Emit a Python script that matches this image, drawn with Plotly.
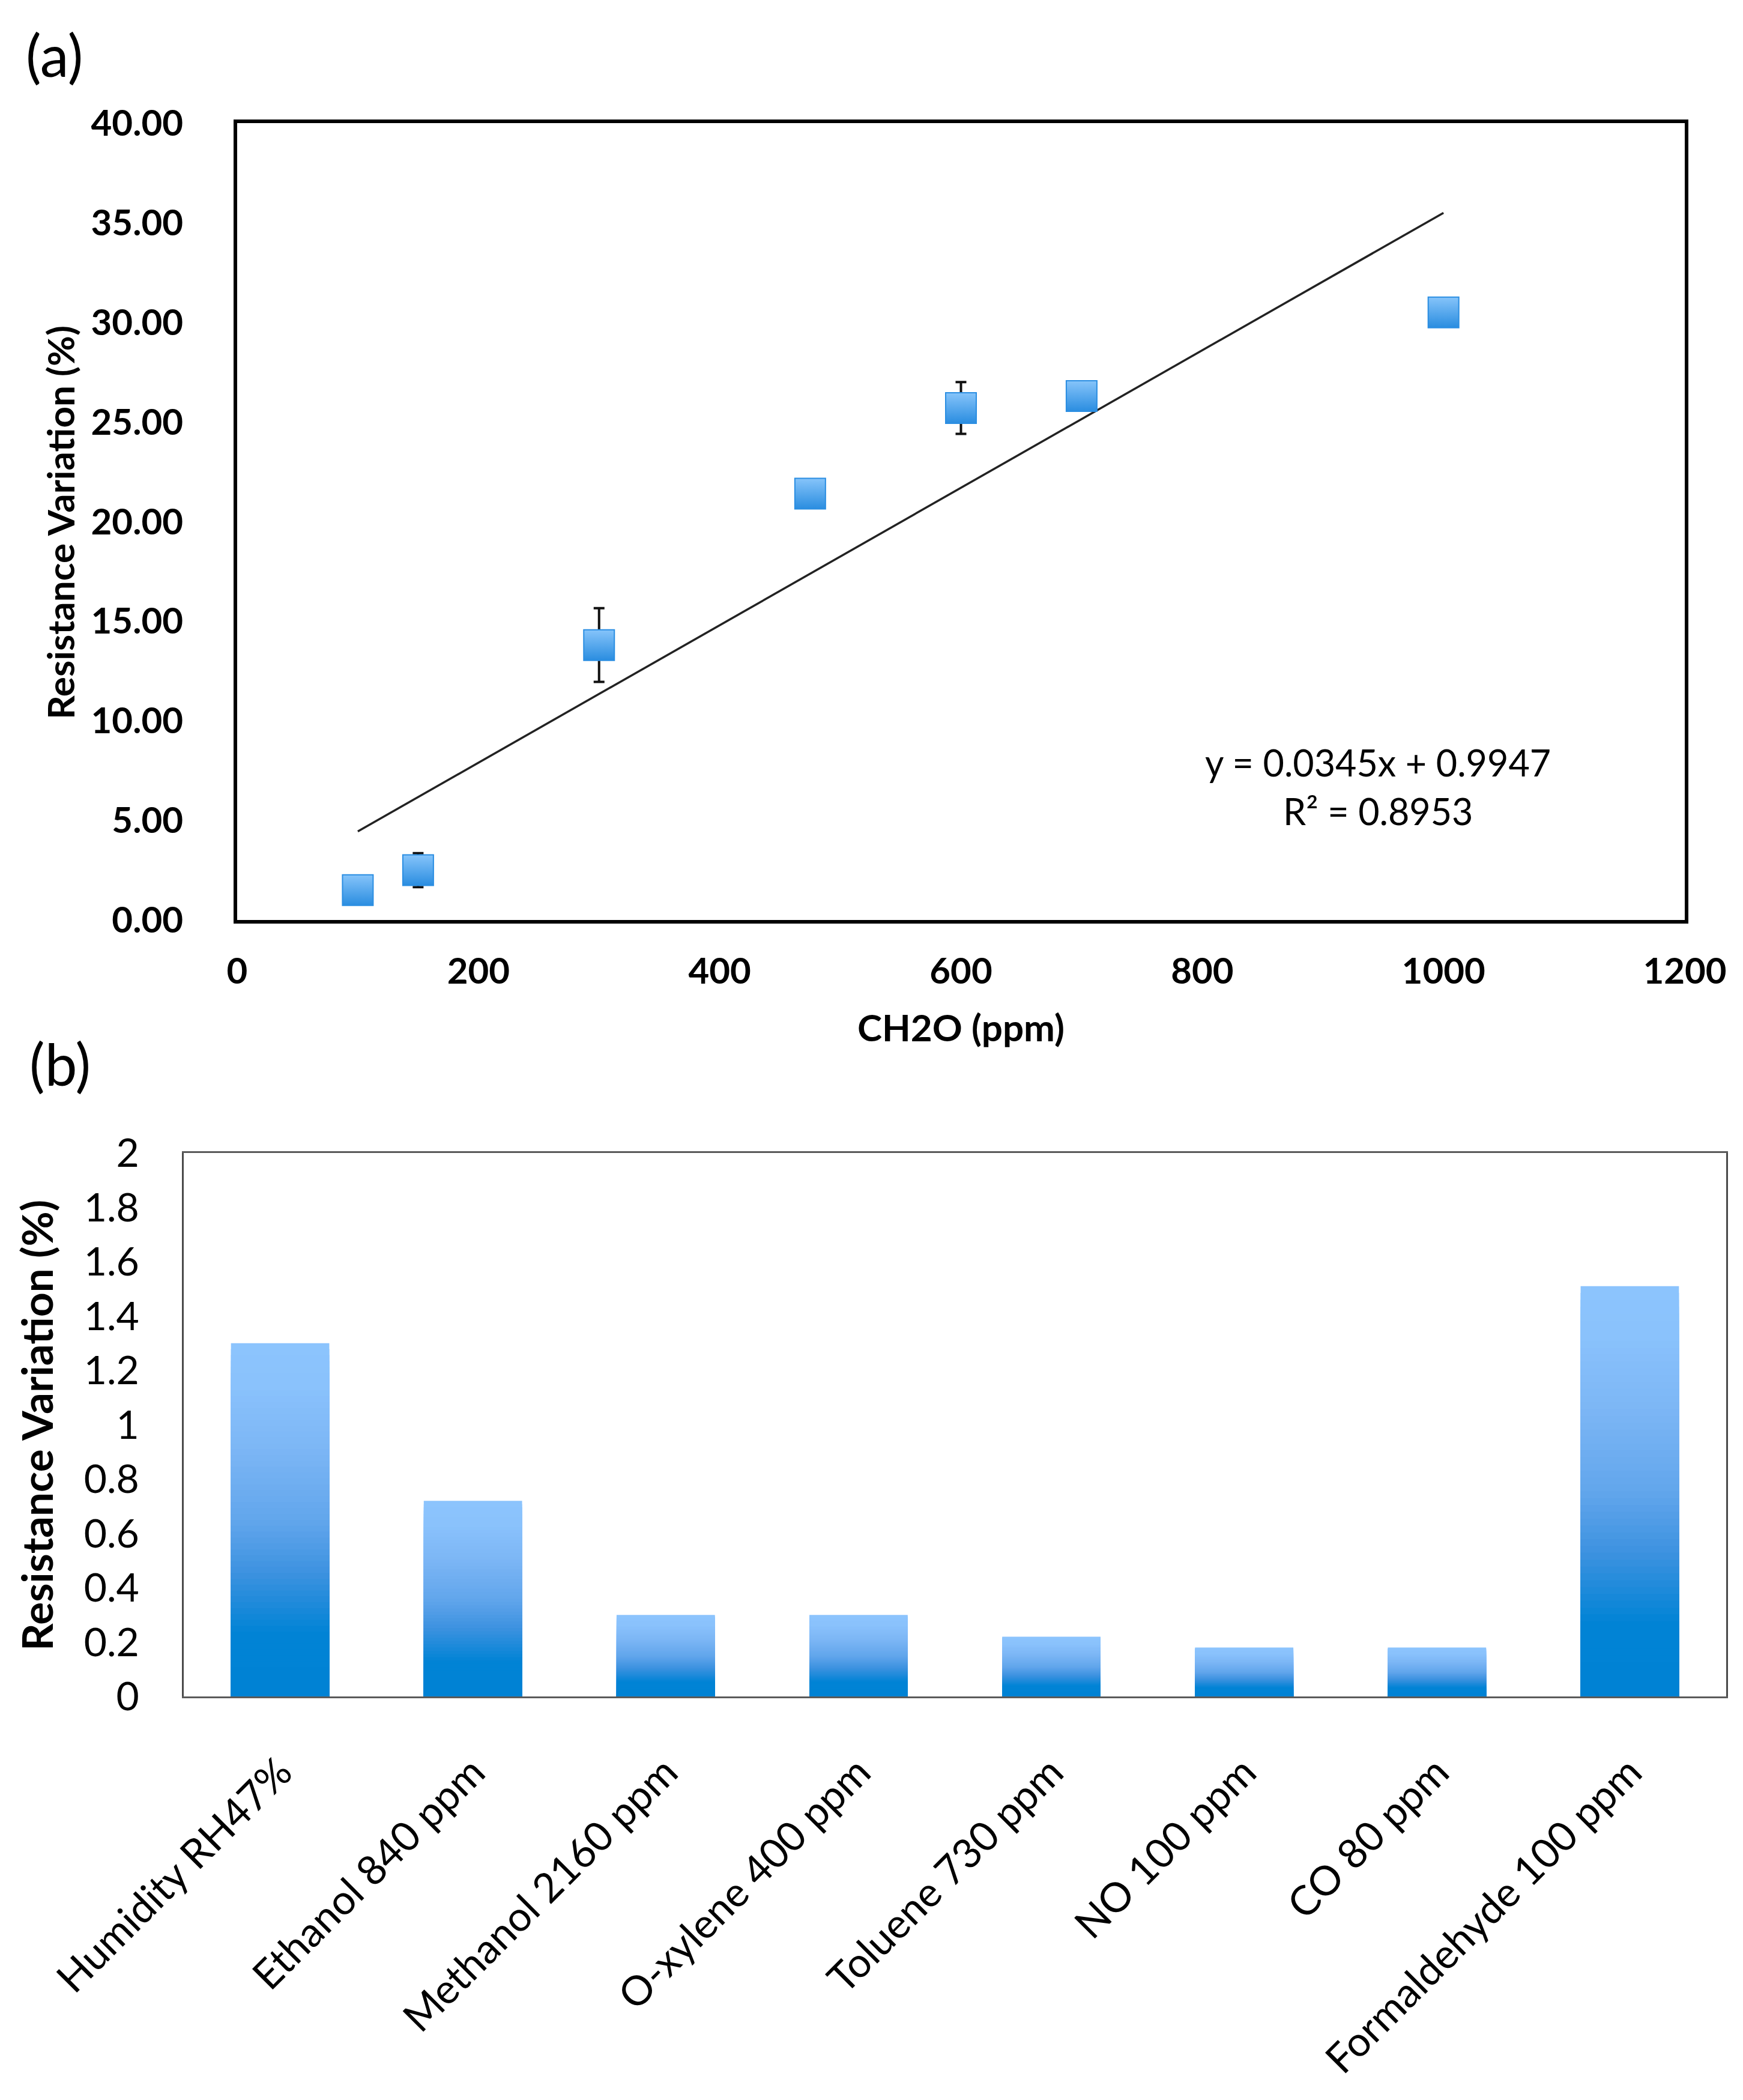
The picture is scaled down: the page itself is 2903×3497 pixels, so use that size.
import plotly.graph_objects as go

# (a) CH2O response
conc_ppm = [100, 150, 300, 475, 600, 700, 1000]
resp_pct = [1.5, 2.5, 13.8, 21.4, 25.7, 26.3, 30.5]
resp_err = [0, 0.85, 1.85, 0, 1.3, 0, 0]
fit_slope = 0.0345
fit_icpt = 0.9947
fit_r2 = 0.8953

# (b) selectivity
gases = ['Humidity RH47%', 'Ethanol 840 ppm', 'Methanol 2160 ppm', 'O-xylene 400 ppm',
         'Toluene 730 ppm', 'NO 100 ppm', 'CO 80 ppm', 'Formaldehyde 100 ppm']
gas_resp = [1.30, 0.72, 0.30, 0.30, 0.22, 0.18, 0.18, 1.51]

W, H = 2903, 3497
FONT = 'Lato'

def px_x(p):
    return p / W

def px_y(p):
    return 1 - p / H

# gradient stops for the bars (fraction of bar height from bottom -> colour)
grad_stops = [(0.0, (0, 130, 212)), (0.18, (1, 131, 213)), (0.35, (61, 146, 224)),
              (0.5, (98, 166, 236)), (0.7, (124, 182, 245)), (0.88, (138, 194, 252)),
              (1.0, (140, 196, 253))]

def grad_color(f):
    for (f0, c0), (f1, c1) in zip(grad_stops[:-1], grad_stops[1:]):
        if f <= f1:
            t = (f - f0) / (f1 - f0) if f1 > f0 else 0
            c = [round(a + (b - a) * t) for a, b in zip(c0, c1)]
            return 'rgb(%d,%d,%d)' % tuple(c)
    return 'rgb(%d,%d,%d)' % grad_stops[-1][1]

fig = go.Figure()

# ---- panel (a)
fig.add_trace(go.Scatter(
    x=[min(conc_ppm), max(conc_ppm)],
    y=[fit_slope * min(conc_ppm) + fit_icpt, fit_slope * max(conc_ppm) + fit_icpt],
    mode='lines', line=dict(color='#222222', width=3.5),
    xaxis='x', yaxis='y', showlegend=False, hoverinfo='skip'))

fig.add_trace(go.Scatter(
    x=conc_ppm, y=resp_pct, mode='markers',
    error_y=dict(type='data', array=resp_err, visible=True, color='#111111',
                 thickness=4, width=9),
    marker=dict(symbol='square', size=51, color='#86c4fa',
                gradient=dict(type='vertical', color='#2a8de0'),
                line=dict(color='#2b8ee2', width=2)),
    xaxis='x', yaxis='y', showlegend=False))

# ---- panel (b): overlaid bars of decreasing height give a vertical gradient
N = 60
for k in range(N):
    f = (N - k) / N
    fig.add_trace(go.Bar(
        x=gases, y=[v * f for v in gas_resp],
        marker=dict(color=grad_color(f - 0.5 / N), line=dict(width=0)),
        xaxis='x2', yaxis='y2', showlegend=False, hoverinfo='skip'))

a_dom_x = [px_x(387), px_x(2798)]
a_dom_y = [px_y(1524), px_y(197)]
b_dom_x = [px_x(298), px_x(2867)]
b_dom_y = [px_y(2817), px_y(1912)]

fig.update_layout(
    width=W, height=H,
    margin=dict(l=0, r=0, t=0, b=0),
    paper_bgcolor='white', plot_bgcolor='white',
    font=dict(family=FONT, color='black'),
    barmode='overlay', bargap=0.49,
    xaxis=dict(domain=a_dom_x, anchor='y', range=[0, 1200], dtick=200, tick0=0,
               automargin=False,
               showgrid=False, zeroline=False, showline=True, mirror=True,
               linecolor='black', linewidth=6, ticks='',
               tickfont=dict(family=FONT, size=60, weight='bold'),
               ticklabelstandoff=28),
    yaxis=dict(domain=a_dom_y, anchor='x', range=[0, 40], dtick=5, tick0=0,
               tickformat='.2f', automargin=False,
               showgrid=False, zeroline=False, showline=True, mirror=True,
               linecolor='black', linewidth=6, ticks='',
               tickfont=dict(family=FONT, size=60, weight='bold'),
               ticklabelstandoff=72),
    xaxis2=dict(domain=b_dom_x, anchor='y2', type='category', automargin=False,
                showgrid=False, zeroline=False, showline=True, mirror=True,
                linecolor='#5a5a5a', linewidth=3, ticks='', tickangle=-45,
                tickfont=dict(family=FONT, size=68),
                ticklabelstandoff=56),
    yaxis2=dict(domain=b_dom_y, anchor='x2', range=[0, 2], dtick=0.2, tick0=0,
                automargin=False,
                showgrid=False, zeroline=False, showline=True, mirror=True,
                linecolor='#4a4a4a', linewidth=3, ticks='',
                tickfont=dict(family=FONT, size=66),
                ticklabelstandoff=58),
)

annots = [
    dict(text='(a)', x=px_x(82), y=px_y(82), font=dict(size=96)),
    dict(text='Resistance Variation (%)', x=px_x(92), y=px_y(862), textangle=-90,
         font=dict(size=62, weight='bold')),
    dict(text='CH2O (ppm)', x=px_x(1592), y=px_y(1702), font=dict(size=62, weight='bold')),
    dict(text='y = %.4fx + %.4f' % (fit_slope, fit_icpt),
         x=px_x(2287), y=px_y(1262), font=dict(size=61)),
    dict(text='R² = %.4f' % fit_r2,
         x=px_x(2287), y=px_y(1342), font=dict(size=61)),
    dict(text='(b)', x=px_x(92), y=px_y(1762), font=dict(size=96)),
    dict(text='Resistance Variation (%)', x=px_x(52), y=px_y(2366), textangle=-90,
         font=dict(size=71, weight='bold')),
]
for a in annots:
    fig.add_annotation(xref='paper', yref='paper', showarrow=False,
                       xanchor='center', yanchor='middle', **a)

fig.write_html("out.html")
